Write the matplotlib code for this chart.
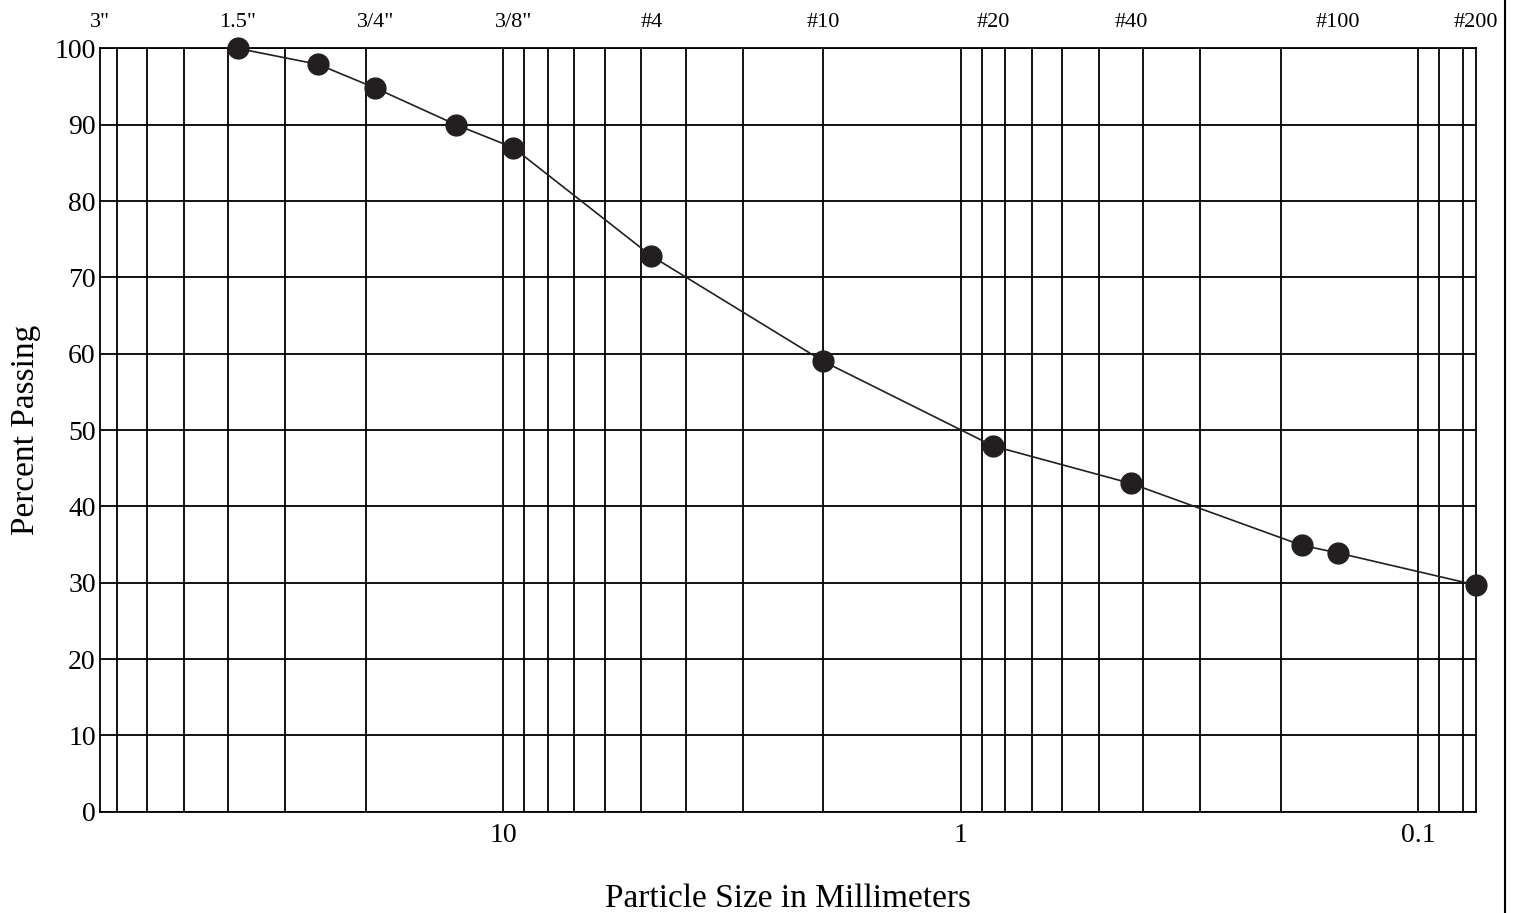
import matplotlib
matplotlib.use('Agg')
import matplotlib.pyplot as plt
from matplotlib.ticker import LogLocator, NullFormatter, NullLocator
from matplotlib.lines import Line2D

# Sieve analysis results (grain size in mm, percent passing)
grain_size_mm = [38.1, 25.4, 19.05, 12.7, 9.525, 4.75, 2.0, 0.85, 0.425, 0.18, 0.15, 0.075]
percent_passing = [100.0, 97.9, 94.8, 90.0, 87.0, 72.8, 59.0, 47.9, 43.0, 34.9, 33.9, 29.7]

# Sieve designations shown along the top
sieve_labels = ['3"', '1.5"', '3/4"', '3/8"', '#4', '#10', '#20', '#40', '#100', '#200']
sieve_sizes_mm = [76.2, 38.1, 19.05, 9.525, 4.75, 2.0, 0.85, 0.425, 0.15, 0.075]

bottom_ticks = [10, 1, 0.1]
bottom_tick_labels = ['10', '1', '0.1']
y_ticks = list(range(0, 101, 10))

plt.rcParams['font.family'] = ['Liberation Serif', 'DejaVu Serif']

fig = plt.figure(figsize=(15.15, 9.13), dpi=100)
ax = fig.add_axes([0.066, 0.111, 0.908, 0.836])

ax.set_xscale('log')
ax.set_xlim(76.2, 0.075)
ax.set_ylim(0, 100)

ax.set_xticks(bottom_ticks)
ax.set_xticklabels(bottom_tick_labels)
ax.xaxis.set_minor_locator(LogLocator(base=10, subs=range(2, 10)))
ax.xaxis.set_minor_formatter(NullFormatter())
ax.set_yticks(y_ticks)

ax.grid(which='both', axis='x', color='black', linewidth=1.3)
ax.grid(which='major', axis='y', color='black', linewidth=1.3)
ax.set_axisbelow(True)
for s in ax.spines.values():
    s.set_linewidth(1.3)
    s.set_color('black')

ax.tick_params(axis='both', which='both', length=0, labelsize=20)
ax.tick_params(axis='x', pad=8)
ax.tick_params(axis='y', pad=3)

ax.plot(grain_size_mm, percent_passing, color='#231f20', linewidth=1.2,
        marker='o', markersize=15, clip_on=False, zorder=5)

# sieve numbers on top
top = ax.secondary_xaxis('top')
top.set_xticks(sieve_sizes_mm)
top.set_xticklabels(sieve_labels)
top.xaxis.set_minor_locator(NullLocator())
top.tick_params(length=0, pad=12, labelsize=16)
top.spines['top'].set_visible(False)

ax.set_xlabel('Particle Size in Millimeters', fontsize=24, labelpad=26)
ax.set_ylabel('Percent Passing', fontsize=24, labelpad=10)

# page edge of the scanned sheet
fig.add_artist(Line2D([0.9935, 0.9935], [0, 1], transform=fig.transFigure,
                      color='black', linewidth=1.5))

fig.savefig('out.png', dpi=100)
